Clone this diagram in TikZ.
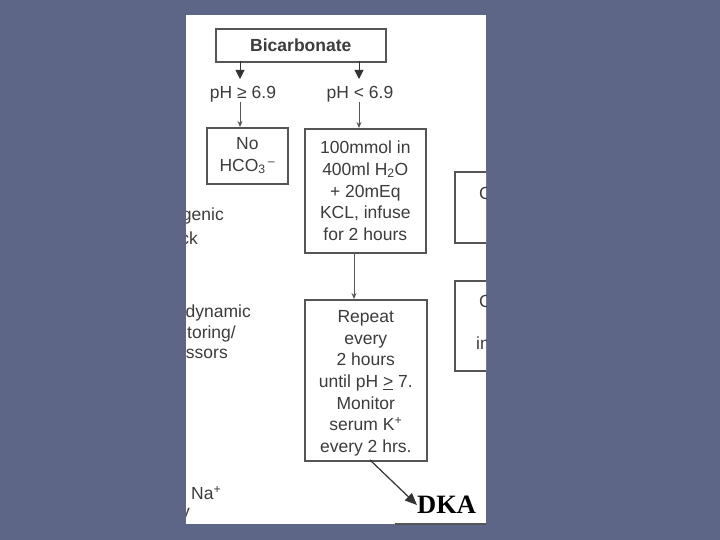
\documentclass[tikz,border=0pt]{standalone}
\usepackage{fontspec}
\setmainfont{Liberation Sans}
\newfontfamily\dkafont{Liberation Serif}
\usetikzlibrary{arrows.meta}
\definecolor{slate}{RGB}{94,102,135}
\definecolor{boxline}{RGB}{85,85,85}
\definecolor{txt}{RGB}{60,60,60}
\begin{document}
\begin{tikzpicture}[x=1pt,y=-1pt,
  box/.style={draw=boxline,line width=1.6pt,fill=white,inner sep=0pt,anchor=north west,text=txt,font=\fontsize{17.5}{21.7}\selectfont,align=center},
  boxtext/.style={inner sep=0pt,text=txt,font=\fontsize{17.5}{21.7}\selectfont,align=center},
  lbl/.style={text=txt,font=\fontsize{17.5}{20}\selectfont,inner sep=0pt},
  frag/.style={text=txt,font=\fontsize{17.5}{20}\selectfont,inner sep=0pt},
  arr/.style={draw=boxline,line width=0.9pt,-{Stealth[length=6pt,width=5pt]}},
  bigarr/.style={draw=black!80,line width=1pt,-{Triangle[length=9pt,width=9pt]}}]
\useasboundingbox (0,0) rectangle (720,540);
\fill[slate] (0,0) rectangle (720,540);
\fill[white] (186,15) rectangle (486,524);
\begin{scope}
\clip (186,15) rectangle (486,524);
% boxes
\node[box,minimum width=170pt,minimum height=33pt,font=\fontsize{17.5}{20}\selectfont] (bic) at (215,28) {\textbf{Bicarbonate}};
\node[box,minimum width=81pt,minimum height=56pt] (no) at (206,127) {No\\HCO\textsubscript{3}\textsuperscript{\,–}};
\node[box,minimum width=121pt,minimum height=124pt] (mm) at (304,128) {100mmol in\\400ml H\textsubscript{2}O\\+ 20mEq\\KCL, infuse\\for 2 hours};
\node[box,minimum width=122pt,minimum height=161pt] (rep) at (304,299) {};
\node[boxtext] (reptext) at ([yshift=-3pt]rep.center) {Repeat\\every\\2 hours\\until pH \underline{>} 7.\\Monitor\\serum K\textsuperscript{+}\\every 2 hrs.};
\node[box,minimum width=60pt,minimum height=71pt] (r1) at (454,171) {};
\node[box,minimum width=60pt,minimum height=90pt] (r2) at (454,280) {};
\node[box,minimum width=120pt,minimum height=20pt] (bot) at (395,523) {};
% labels
\node[lbl] (ph1) at (243,94) {pH ≥ 6.9};
\node[lbl] (ph2) at (360,94) {pH < 6.9};
\node[font=\dkafont\bfseries\fontsize{26.5}{26}\selectfont,inner sep=0pt,anchor=west] (dka) at (417,505) {DKA};
% fragments
\node[frag,anchor=east] (f1) at (224,216) {Cardiogenic};
\node[frag,anchor=east] (f2) at (198,238) {shock};
\node[frag,anchor=east] (f3) at (251,313) {Hemodynamic};
\node[frag,anchor=east] (f4) at (236,334) {monitoring/};
\node[frag,anchor=east] (f5) at (228,356) {pressors};
\node[frag,anchor=west] (f6) at (191,493) {Na\textsuperscript{+}};
\node[frag,anchor=east] (f7) at (190,515) {y};
\node[frag,anchor=west] (f8) at (479,193) {C};
\node[frag,anchor=west] (f9) at (479,301) {C};
\node[frag,anchor=west] (f10) at (476,343) {in};
% arrows
\coordinate (b1) at (240,61);
\coordinate (b2) at (359,61);
\coordinate (e1) at (240,79);
\coordinate (e2) at (359,79);
\draw[bigarr] (b1) -- (e1);
\draw[bigarr] (b2) -- (e2);
\draw[arr] (ph1.south -| b1) -- (no.north -| b1);
\draw[arr] (ph2.south -| b2) -- (mm.north -| b2);
\draw[arr] (354,252) -- (rep.north -| 354,0);
\draw[draw=black!80,line width=1.2pt,-{Triangle[length=12pt,width=10pt]}] (370,460) -- (dka.west);
\end{scope}
\end{tikzpicture}
\end{document}
